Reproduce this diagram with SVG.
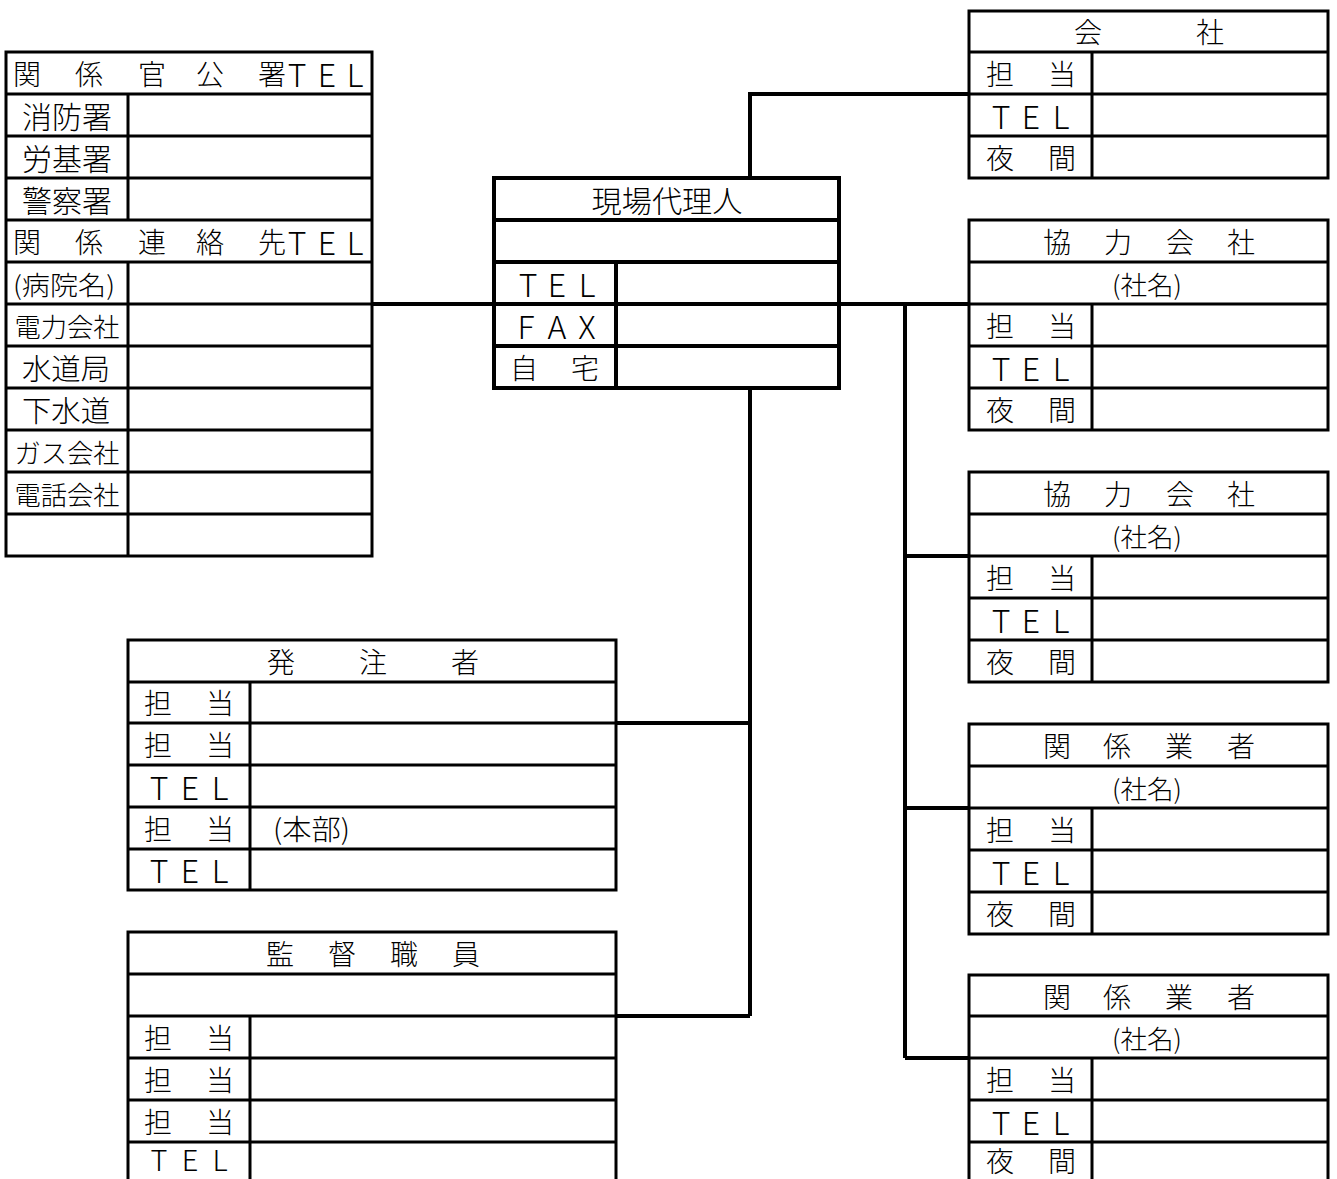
<svg xmlns="http://www.w3.org/2000/svg" width="1337" height="1179" viewBox="0 0 1337 1179">
<style>
.g{fill:none;stroke:#000;stroke-width:3}
.gb{fill:none;stroke:#000;stroke-width:4}
.cn{fill:none;stroke:#000;stroke-width:4}
text{font-family:"Noto Sans CJK JP","Noto Sans",sans-serif;font-size:28px;font-weight:300;fill:#000;text-anchor:middle;dominant-baseline:central}
.s{font-size:26px}
.l{text-anchor:start}
.e{font-size:32px}
.h{font-size:32px}
</style>
<rect width="1337" height="1179" fill="#fff"/>
<g id="connectors">
<path class="cn" d="M372 304H494"/>
<path class="cn" d="M750 178V94H969"/>
<path class="cn" d="M839 304H969"/>
<path class="cn" d="M905 304V1058"/>
<path class="cn" d="M905 556H969M905 808H969M905 1058H969"/>
<path class="cn" d="M750 388V1016"/>
<path class="cn" d="M616 723H750M616 1016H750"/>
</g>
<g id="kankei">
<rect class="g" x="6" y="52" width="366" height="504"/>
<path class="g" d="M6 94H372M6 136H372M6 178H372M6 220H372M6 262H372M6 304H372M6 346H372M6 388H372M6 430H372M6 472H372M6 514H372M128 94V220M128 262V556"/>
<text x="27" y="73">関</text><text x="89" y="73">係</text><text x="152" y="73">官</text><text x="210" y="73">公</text><text x="272" y="73">署</text>
<text x="297 327 355" y="73" class="h">TEL</text>
<text x="67" y="115" textLength="90" lengthAdjust="spacingAndGlyphs" style="font-size:30px">消防署</text>
<text x="67" y="157" textLength="90" lengthAdjust="spacingAndGlyphs" style="font-size:30px">労基署</text>
<text x="67" y="199" textLength="90" lengthAdjust="spacingAndGlyphs" style="font-size:30px">警察署</text>
<text x="27" y="241">関</text><text x="89" y="241">係</text><text x="152" y="241">連</text><text x="210" y="241">絡</text><text x="272" y="241">先</text>
<text x="297 327 355" y="241" class="h">TEL</text>
<text x="64" y="283" textLength="102" lengthAdjust="spacingAndGlyphs" class="s">(病院名)</text>
<text x="67" y="325" textLength="105" lengthAdjust="spacingAndGlyphs" class="s">電力会社</text>
<text x="66" y="367" textLength="88" lengthAdjust="spacingAndGlyphs" style="font-size:29px">水道局</text>
<text x="66" y="409" textLength="88" lengthAdjust="spacingAndGlyphs" style="font-size:29px">下水道</text>
<text x="67" y="451" textLength="105" lengthAdjust="spacingAndGlyphs" class="s">ガス会社</text>
<text x="67" y="493" textLength="105" lengthAdjust="spacingAndGlyphs" class="s">電話会社</text>
</g>
<g id="genba">
<rect class="gb" x="494" y="178" width="345" height="210"/>
<path class="gb" d="M494 220H839M494 262H839M494 304H839M494 346H839M616 262V388"/>
<text x="667" y="199" textLength="151" lengthAdjust="spacingAndGlyphs" style="font-size:30px">現場代理人</text>
<text x="528 557 587" y="283" class="e">TEL</text>
<text x="526 557 587" y="325" class="e">FAX</text>
<text x="524" y="367">自</text><text x="585" y="367">宅</text>
</g>
<g id="kaisha">
<rect class="g" x="969" y="11" width="359" height="167"/>
<path class="g" d="M969 52H1328M969 94H1328M969 136H1328M1092 52V178"/>
<text x="1088" y="31">会</text><text x="1210" y="31">社</text>
<text x="1000" y="73">担</text><text x="1062" y="73">当</text>
<text x="1001 1031 1061" y="115" class="e">TEL</text>
<text x="1000" y="157">夜</text><text x="1062" y="157">間</text>
</g>
<g id="kyoryoku1">
<rect class="g" x="969" y="220" width="359" height="210"/>
<path class="g" d="M969 262H1328M969 304H1328M969 346H1328M969 388H1328M1092 304V430"/>
<text x="1057" y="241">協</text><text x="1118" y="241">力</text><text x="1180" y="241">会</text><text x="1241" y="241">社</text>
<text x="1147" y="283" class="s" textLength="70" lengthAdjust="spacingAndGlyphs">(社名)</text>
<text x="1000" y="325">担</text><text x="1062" y="325">当</text>
<text x="1001 1031 1061" y="367" class="e">TEL</text>
<text x="1000" y="409">夜</text><text x="1062" y="409">間</text>
</g>
<g id="kyoryoku2">
<rect class="g" x="969" y="472" width="359" height="210"/>
<path class="g" d="M969 514H1328M969 556H1328M969 598H1328M969 640H1328M1092 556V682"/>
<text x="1057" y="493">協</text><text x="1118" y="493">力</text><text x="1180" y="493">会</text><text x="1241" y="493">社</text>
<text x="1147" y="535" class="s" textLength="70" lengthAdjust="spacingAndGlyphs">(社名)</text>
<text x="1000" y="577">担</text><text x="1062" y="577">当</text>
<text x="1001 1031 1061" y="619" class="e">TEL</text>
<text x="1000" y="661">夜</text><text x="1062" y="661">間</text>
</g>
<g id="kankeigyosha1">
<rect class="g" x="969" y="724" width="359" height="210"/>
<path class="g" d="M969 766H1328M969 808H1328M969 850H1328M969 892H1328M1092 808V934"/>
<text x="1057" y="745">関</text><text x="1117" y="745">係</text><text x="1179" y="745">業</text><text x="1241" y="745">者</text>
<text x="1147" y="787" class="s" textLength="70" lengthAdjust="spacingAndGlyphs">(社名)</text>
<text x="1000" y="829">担</text><text x="1062" y="829">当</text>
<text x="1001 1031 1061" y="871" class="e">TEL</text>
<text x="1000" y="913">夜</text><text x="1062" y="913">間</text>
</g>
<g id="kankeigyosha2">
<rect class="g" x="969" y="975" width="359" height="210"/>
<path class="g" d="M969 1016H1328M969 1058H1328M969 1100H1328M969 1142H1328M1092 1058V1185"/>
<text x="1057" y="996">関</text><text x="1117" y="996">係</text><text x="1179" y="996">業</text><text x="1241" y="996">者</text>
<text x="1147" y="1037" class="s" textLength="70" lengthAdjust="spacingAndGlyphs">(社名)</text>
<text x="1000" y="1079">担</text><text x="1062" y="1079">当</text>
<text x="1001 1031 1061" y="1121" class="e">TEL</text>
<text x="1000" y="1160">夜</text><text x="1062" y="1160">間</text>
</g>
<g id="hatchusha">
<rect class="g" x="128" y="640" width="488" height="250"/>
<path class="g" d="M128 682H616M128 723H616M128 765H616M128 807H616M128 849H616M250 682V890"/>
<text x="281" y="661">発</text><text x="373" y="661">注</text><text x="465" y="661">者</text>
<text x="158" y="702">担</text><text x="220" y="702">当</text>
<text x="158" y="744">担</text><text x="220" y="744">当</text>
<text x="159 190 220" y="786" class="e">TEL</text>
<text x="158" y="828">担</text><text x="220" y="828">当</text>
<text x="273" y="828" class="l" textLength="77" lengthAdjust="spacingAndGlyphs">(本部)</text>
<text x="159 190 220" y="869" class="e">TEL</text>
</g>
<g id="kantoku">
<rect class="g" x="128" y="932" width="488" height="253"/>
<path class="g" d="M128 974H616M128 1016H616M128 1058H616M128 1100H616M128 1142H616M250 1016V1185"/>
<text x="280" y="953">監</text><text x="342" y="953">督</text><text x="404" y="953">職</text><text x="466" y="953">員</text>
<text x="158" y="1037">担</text><text x="220" y="1037">当</text>
<text x="158" y="1079">担</text><text x="220" y="1079">当</text>
<text x="158" y="1121">担</text><text x="220" y="1121">当</text>
<text x="159 190 220" y="1158" style="font-size:29px">TEL</text>
</g>
</svg>
